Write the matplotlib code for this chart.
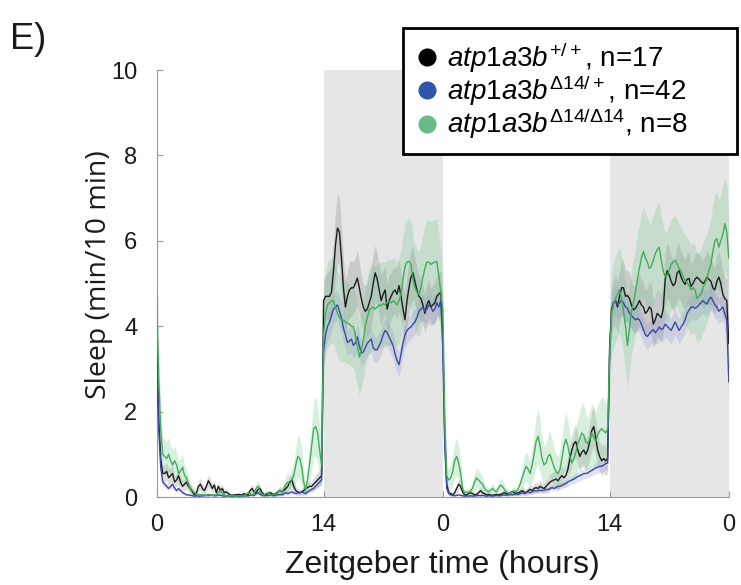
import numpy as np
import matplotlib
matplotlib.use("Agg")
import matplotlib.pyplot as plt
from matplotlib.lines import Line2D

plt.rcParams['font.family'] = ['Liberation Sans', 'DejaVu Sans']
plt.rcParams['mathtext.fontset'] = 'custom'
plt.rcParams['mathtext.it'] = 'Liberation Sans:italic'
plt.rcParams['mathtext.rm'] = 'Liberation Sans'
plt.rcParams['mathtext.sf'] = 'Liberation Sans'

# ---------------- data (sleep, min per 10-min bin) ----------------
tick_positions = [0, 14, 24, 38, 48]
tick_labels = ['0', '14', '0', '14', '0']
night_periods = [(14, 24), (38, 48)]
bin_hours = 1 / 6

# atp1a3b +/+ (black)
wt_day1 = [3.6, 1.8, 0.9, 0.55, 0.55, 0.6, 0.45, 0.5, 0.55, 0.35, 0.4, 0.5,
           0.35, 0.25, 0.3, 0.35, 0.25, 0.2, 0.12, 0.05, 0.1, 0.25, 0.3, 0.2,
           0.15, 0.25, 0.38, 0.3, 0.2, 0.28, 0.1, 0.25, 0.15, 0.2, 0.1, 0.12,
           0.08, 0.05, 0.04, 0.05, 0.05, 0.06, 0.05, 0.05, 0.08, 0.05, 0.06, 0.15,
           0.2, 0.12, 0.1, 0.18, 0.2, 0.1, 0.06, 0.05, 0.08, 0.1, 0.08, 0.06,
           0.08, 0.12, 0.15, 0.12, 0.15, 0.2, 0.25, 0.35, 0.4, 0.25, 0.15, 0.12,
           0.1, 0.12, 0.15, 0.2, 0.22, 0.25, 0.25, 0.3, 0.35, 0.4, 0.45, 0.5]
wt_night1 = [4.6, 4.7, 4.7, 4.7, 4.8, 5.3, 5.9, 6.3, 6.2, 5.6, 4.9, 4.45,
             4.7, 4.85, 4.9, 4.9, 5.0, 5.13, 4.9, 4.65, 4.45, 4.35, 4.4, 4.55,
             4.7, 5.0, 5.25, 5.1, 4.85, 4.6, 4.75, 4.85, 4.4, 4.6, 4.7, 4.8,
             4.85, 4.75, 4.95, 4.7, 4.4, 4.15, 4.6, 4.9, 5.15, 5.25, 5.05, 4.85,
             4.7, 4.65, 4.5, 4.3, 4.5, 4.6, 4.45, 4.5, 4.55, 4.7, 4.75, 4.8]
wt_day2 = [4.0, 1.4, 0.3, 0.1, 0.08, 0.05, 0.1, 0.2, 0.3, 0.25, 0.12, 0.05,
           0.05, 0.08, 0.1, 0.08, 0.05, 0.06, 0.1, 0.15, 0.1, 0.08, 0.05, 0.06,
           0.05, 0.04, 0.05, 0.06, 0.05, 0.06, 0.08, 0.1, 0.08, 0.06, 0.1, 0.12,
           0.1, 0.08, 0.1, 0.12, 0.15, 0.12, 0.1, 0.15, 0.18, 0.15, 0.2, 0.22,
           0.2, 0.25, 0.22, 0.2, 0.25, 0.3, 0.35, 0.38, 0.4, 0.42, 0.38, 0.45,
           0.5, 0.45, 0.5, 0.65, 0.9, 1.1, 1.25, 1.3, 1.1, 0.95, 1.05, 1.1,
           1.0, 1.1, 1.3, 1.55, 1.65, 1.4, 1.1, 0.95, 0.85, 0.9, 0.85, 0.9]
wt_night2 = [3.5, 4.4, 4.55, 4.6, 4.45, 4.7, 4.9, 4.9, 4.7, 4.72, 4.65, 4.5,
             4.38, 4.42, 4.5, 4.6, 4.5, 4.45, 4.3, 4.35, 4.45, 4.4, 4.05, 4.15,
             4.3, 4.25, 4.2, 4.4, 5.1, 5.3, 5.2, 5.05, 4.95, 5.0, 5.25, 5.3,
             5.15, 5.05, 4.98, 5.1, 5.12, 4.93, 5.0, 5.1, 5.15, 5.1, 5.05, 5.0,
             5.05, 5.15, 5.1, 5.05, 4.9, 4.85, 5.05, 5.15, 5.0, 4.75, 4.65, 4.6,
             3.6]

# atp1a3b D14/+ (blue)
het_day1 = [3.4, 1.6, 0.7, 0.35, 0.3, 0.25, 0.2, 0.25, 0.3, 0.2, 0.15, 0.2,
            0.15, 0.1, 0.08, 0.05, 0.05, 0.04, 0.03, 0.02, 0.03, 0.02, 0.02, 0.03,
            0.03, 0.04, 0.03, 0.05, 0.04, 0.03, 0.03, 0.05, 0.04, 0.03, 0.02, 0.03,
            0.02, 0.03, 0.02, 0.02, 0.03, 0.02, 0.02, 0.02, 0.03, 0.03, 0.03, 0.04,
            0.05, 0.04, 0.08, 0.1, 0.06, 0.04, 0.03, 0.04, 0.03, 0.05, 0.04, 0.03,
            0.04, 0.05, 0.06, 0.05, 0.08, 0.1, 0.08, 0.1, 0.12, 0.1, 0.08, 0.1,
            0.1, 0.12, 0.1, 0.08, 0.12, 0.15, 0.18, 0.2, 0.25, 0.3, 0.35, 0.4]
het_night1 = [3.4, 3.8, 4.0, 4.1, 4.25, 4.4, 4.45, 4.5, 4.35, 4.2, 3.95, 3.8,
              3.62, 3.65, 3.7, 3.55, 3.6, 3.75, 3.55, 3.37, 3.4, 3.5, 3.6, 3.65,
              3.7, 3.5, 3.45, 3.45, 3.55, 3.65, 3.8, 3.9, 3.85, 3.75, 3.65, 3.55,
              3.35, 3.2, 3.1, 3.35, 3.6, 3.8, 3.9, 3.95, 3.98, 4.05, 4.1, 4.2,
              4.35, 4.4, 4.45, 4.35, 4.4, 4.5, 4.45, 4.35, 4.4, 4.55, 4.45, 4.6]
het_day2 = [3.5, 1.2, 0.2, 0.08, 0.05, 0.04, 0.03, 0.04, 0.05, 0.04, 0.03, 0.02,
            0.03, 0.02, 0.03, 0.02, 0.03, 0.03, 0.04, 0.03, 0.04, 0.03, 0.02, 0.03,
            0.03, 0.02, 0.03, 0.04, 0.03, 0.03, 0.04, 0.05, 0.04, 0.05, 0.06, 0.05,
            0.06, 0.07, 0.06, 0.08, 0.1, 0.08, 0.1, 0.12, 0.1, 0.12, 0.15, 0.14,
            0.15, 0.16, 0.15, 0.16, 0.18, 0.17, 0.2, 0.22, 0.2, 0.22, 0.25, 0.25,
            0.27, 0.3, 0.32, 0.35, 0.38, 0.4, 0.42, 0.45, 0.48, 0.5, 0.52, 0.55,
            0.55, 0.56, 0.6, 0.62, 0.65, 0.68, 0.7, 0.72, 0.72, 0.75, 0.78, 0.8]
het_night2 = [3.3, 4.4, 4.55, 4.6, 4.5, 4.55, 4.6, 4.55, 4.45, 4.42, 4.3, 4.25,
              4.2, 4.15, 4.18, 4.15, 4.05, 3.92, 3.8, 3.76, 3.82, 3.88, 3.92, 3.85,
              3.9, 3.98, 3.92, 3.95, 4.05, 4.0, 3.95, 3.9, 4.0, 4.1, 4.0, 3.9,
              3.98, 4.05, 4.15, 4.3, 4.38, 4.45, 4.45, 4.42, 4.45, 4.5, 4.55, 4.6,
              4.55, 4.52, 4.62, 4.68, 4.6, 4.5, 4.45, 4.35, 4.4, 4.45, 4.3, 4.15,
              2.7]

# atp1a3b D14/D14 (green)
hom_day1 = [4.7, 2.8, 1.6, 1.0, 0.95, 0.9, 1.0, 0.85, 0.75, 0.85, 0.75, 0.55,
            0.6, 0.7, 0.5, 0.45, 0.3, 0.2, 0.15, 0.1, 0.08, 0.05, 0.06, 0.05,
            0.05, 0.04, 0.06, 0.05, 0.04, 0.05, 0.05, 0.1, 0.15, 0.08, 0.05, 0.03,
            0.02, 0.03, 0.05, 0.02, 0.02, 0.03, 0.02, 0.02, 0.03, 0.05, 0.1, 0.08,
            0.05, 0.08, 0.2, 0.25, 0.12, 0.06, 0.05, 0.08, 0.1, 0.06, 0.05, 0.08,
            0.05, 0.1, 0.15, 0.1, 0.2, 0.3, 0.35, 0.3, 0.4, 0.5, 0.75, 0.95,
            0.9, 0.7, 0.35, 0.15, 0.45, 0.8, 1.2, 1.6, 1.65, 1.5, 1.1, 0.75]
hom_night1 = [3.8, 4.3, 4.5, 4.55, 4.6, 4.6, 4.45, 4.3, 4.2, 4.15, 4.14, 4.1,
              4.07, 4.05, 4.0, 3.99, 3.8, 3.55, 3.28, 3.45, 3.67, 4.0, 4.2, 4.38,
              4.42, 4.45, 4.4, 4.45, 4.5, 4.48, 4.53, 4.5, 4.55, 4.58, 4.55, 4.6,
              4.55, 4.5, 4.6, 4.77, 5.1, 5.4, 5.5, 5.52, 5.45, 5.1, 4.9, 4.8,
              4.74, 4.9, 5.15, 5.35, 5.5, 5.5, 5.45, 5.48, 5.5, 5.52, 5.2, 4.8]
hom_day2 = [4.4, 1.8, 0.5, 0.4, 0.45, 0.6, 0.85, 0.95, 0.8, 0.55, 0.2, 0.1,
            0.12, 0.1, 0.15, 0.2, 0.35, 0.45, 0.4, 0.35, 0.3, 0.2, 0.15, 0.12,
            0.15, 0.2, 0.15, 0.12, 0.2, 0.28, 0.25, 0.18, 0.12, 0.1, 0.08, 0.12,
            0.15, 0.12, 0.2, 0.3, 0.45, 0.6, 0.72, 0.65, 0.55, 0.75, 1.0, 1.3,
            1.42, 1.2, 0.9, 0.75, 0.8, 0.95, 1.0, 0.85, 0.7, 0.6, 0.55, 0.65,
            0.9, 1.2, 1.35, 1.2, 0.95, 0.8, 0.9, 1.05, 1.25, 1.35, 1.5, 1.45,
            1.3, 1.25, 1.35, 1.5, 1.4, 1.3, 1.45, 1.55, 1.6, 1.55, 1.5, 1.6]
hom_night2 = [3.3, 4.3, 4.5, 4.65, 4.75, 4.85, 4.65, 4.35, 4.0, 3.55, 3.95, 4.35,
              4.55, 4.8, 5.1, 5.35, 5.6, 5.75, 5.6, 5.5, 5.35, 5.4, 5.55, 5.7,
              5.8, 5.85, 5.55, 5.3, 5.15, 5.2, 5.3, 5.45, 5.5, 5.55, 5.45, 5.35,
              5.3, 5.15, 5.08, 5.02, 4.95, 4.85, 4.9, 4.85, 4.65, 4.7, 4.75, 4.9,
              5.0, 5.12, 5.3, 5.45, 5.75, 6.0, 6.05, 5.85, 6.0, 6.15, 6.4, 6.2,
              5.6]

# SEM (half-width of shaded bands)
wt_sem_day1 = [0.9, 0.6, 0.3, 0.2, 0.2, 0.2, 0.2, 0.2, 0.2, 0.15, 0.15, 0.2,
               0.15, 0.15, 0.15, 0.15, 0.12, 0.1, 0.08, 0.05, 0.08, 0.12, 0.15, 0.1,
               0.1, 0.12, 0.15, 0.12, 0.1, 0.12, 0.08, 0.12, 0.1, 0.1, 0.08, 0.08,
               0.05, 0.04, 0.03, 0.04, 0.04, 0.05, 0.04, 0.04, 0.05, 0.04, 0.05, 0.08,
               0.1, 0.08, 0.06, 0.1, 0.1, 0.06, 0.05, 0.04, 0.05, 0.06, 0.05, 0.05,
               0.05, 0.08, 0.1, 0.08, 0.1, 0.12, 0.12, 0.15, 0.15, 0.12, 0.1, 0.08,
               0.08, 0.08, 0.1, 0.12, 0.12, 0.12, 0.12, 0.15, 0.15, 0.18, 0.2, 0.2]
wt_sem_night1 = [0.5, 0.5, 0.55, 0.6, 0.6, 0.7, 0.75, 0.8, 0.8, 0.75, 0.7, 0.6,
                 0.6, 0.65, 0.65, 0.6, 0.6, 0.65, 0.6, 0.55, 0.55, 0.6, 0.6, 0.65,
                 0.7, 0.7, 0.65, 0.6, 0.6, 0.6, 0.55, 0.55, 0.6, 0.6, 0.55, 0.55,
                 0.55, 0.6, 0.6, 0.55, 0.55, 0.6, 0.6, 0.6, 0.65, 0.6, 0.55, 0.5,
                 0.5, 0.5, 0.45, 0.45, 0.5, 0.5, 0.45, 0.45, 0.5, 0.5, 0.5, 0.5]
wt_sem_day2 = [0.8, 0.4, 0.15, 0.08, 0.06, 0.05, 0.06, 0.1, 0.12, 0.1, 0.08, 0.05,
               0.05, 0.06, 0.06, 0.05, 0.05, 0.05, 0.06, 0.08, 0.06, 0.05, 0.04, 0.05,
               0.04, 0.04, 0.04, 0.05, 0.04, 0.05, 0.05, 0.06, 0.05, 0.05, 0.06, 0.08,
               0.06, 0.06, 0.06, 0.08, 0.1, 0.08, 0.08, 0.1, 0.1, 0.1, 0.12, 0.12,
               0.12, 0.14, 0.12, 0.12, 0.14, 0.16, 0.18, 0.18, 0.2, 0.2, 0.2, 0.22,
               0.24, 0.22, 0.24, 0.28, 0.32, 0.36, 0.38, 0.4, 0.36, 0.34, 0.36, 0.38,
               0.36, 0.38, 0.42, 0.46, 0.48, 0.44, 0.4, 0.36, 0.34, 0.35, 0.34, 0.35]
wt_sem_night2 = [0.5, 0.55, 0.55, 0.6, 0.6, 0.6, 0.65, 0.65, 0.6, 0.6, 0.6, 0.55,
                 0.55, 0.55, 0.6, 0.6, 0.6, 0.55, 0.55, 0.55, 0.6, 0.6, 0.55, 0.55,
                 0.55, 0.55, 0.55, 0.6, 0.65, 0.65, 0.65, 0.6, 0.6, 0.6, 0.65, 0.65,
                 0.6, 0.6, 0.6, 0.6, 0.6, 0.55, 0.55, 0.6, 0.6, 0.6, 0.55, 0.55,
                 0.6, 0.6, 0.6, 0.55, 0.55, 0.55, 0.6, 0.6, 0.55, 0.55, 0.5, 0.5,
                 0.7]

het_sem_day1 = [0.5, 0.3, 0.15, 0.08, 0.07, 0.06, 0.06, 0.06, 0.07, 0.05, 0.04, 0.05,
                0.04, 0.03, 0.03, 0.02, 0.02, 0.02, 0.02, 0.01, 0.02, 0.01, 0.01, 0.02,
                0.02, 0.02, 0.01, 0.02, 0.02, 0.01, 0.01, 0.02, 0.02, 0.01, 0.01, 0.02,
                0.01, 0.02, 0.01, 0.01, 0.02, 0.01, 0.01, 0.01, 0.02, 0.02, 0.02, 0.02,
                0.03, 0.02, 0.03, 0.04, 0.03, 0.02, 0.02, 0.02, 0.02, 0.02, 0.02, 0.02,
                0.02, 0.03, 0.03, 0.03, 0.04, 0.04, 0.04, 0.04, 0.05, 0.04, 0.04, 0.04,
                0.04, 0.05, 0.04, 0.04, 0.05, 0.05, 0.06, 0.06, 0.07, 0.08, 0.09, 0.1]
het_sem_night1 = [0.4, 0.35, 0.35, 0.35, 0.35, 0.35, 0.35, 0.35, 0.35, 0.35, 0.35, 0.3,
                  0.3, 0.3, 0.3, 0.3, 0.3, 0.3, 0.3, 0.3, 0.3, 0.3, 0.3, 0.3,
                  0.3, 0.3, 0.3, 0.3, 0.3, 0.3, 0.3, 0.3, 0.3, 0.3, 0.3, 0.3,
                  0.3, 0.3, 0.3, 0.3, 0.3, 0.3, 0.3, 0.3, 0.3, 0.3, 0.3, 0.3,
                  0.3, 0.3, 0.3, 0.3, 0.3, 0.3, 0.3, 0.3, 0.3, 0.3, 0.3, 0.3]
het_sem_day2 = [0.5, 0.25, 0.06, 0.03, 0.02, 0.02, 0.02, 0.02, 0.02, 0.02, 0.02, 0.01,
                0.02, 0.01, 0.02, 0.01, 0.02, 0.02, 0.02, 0.02, 0.02, 0.02, 0.01, 0.02,
                0.02, 0.01, 0.02, 0.02, 0.02, 0.02, 0.02, 0.02, 0.02, 0.02, 0.03, 0.02,
                0.03, 0.03, 0.03, 0.03, 0.04, 0.03, 0.04, 0.04, 0.04, 0.04, 0.05, 0.05,
                0.05, 0.05, 0.05, 0.05, 0.06, 0.06, 0.06, 0.07, 0.06, 0.07, 0.08, 0.08,
                0.08, 0.09, 0.09, 0.1, 0.1, 0.1, 0.11, 0.11, 0.12, 0.12, 0.12, 0.12,
                0.12, 0.12, 0.13, 0.13, 0.13, 0.14, 0.14, 0.14, 0.14, 0.15, 0.15, 0.15]
het_sem_night2 = [0.4, 0.35, 0.35, 0.35, 0.35, 0.35, 0.35, 0.35, 0.35, 0.35, 0.35, 0.3,
                  0.3, 0.3, 0.3, 0.3, 0.3, 0.3, 0.3, 0.3, 0.3, 0.3, 0.3, 0.3,
                  0.3, 0.3, 0.3, 0.3, 0.3, 0.3, 0.3, 0.3, 0.3, 0.3, 0.3, 0.3,
                  0.3, 0.3, 0.3, 0.3, 0.3, 0.3, 0.3, 0.3, 0.3, 0.3, 0.3, 0.3,
                  0.3, 0.3, 0.3, 0.3, 0.3, 0.3, 0.3, 0.3, 0.3, 0.3, 0.35, 0.35,
                  0.5]

hom_sem_day1 = [1.0, 0.8, 0.5, 0.4, 0.4, 0.4, 0.4, 0.35, 0.35, 0.35, 0.3, 0.3,
                0.3, 0.3, 0.25, 0.2, 0.15, 0.12, 0.1, 0.06, 0.05, 0.04, 0.04, 0.04,
                0.04, 0.04, 0.05, 0.04, 0.04, 0.04, 0.04, 0.06, 0.08, 0.05, 0.04, 0.03,
                0.02, 0.03, 0.04, 0.02, 0.02, 0.03, 0.02, 0.02, 0.03, 0.04, 0.06, 0.05,
                0.05, 0.06, 0.12, 0.15, 0.08, 0.05, 0.05, 0.06, 0.07, 0.05, 0.05, 0.06,
                0.05, 0.08, 0.1, 0.08, 0.12, 0.2, 0.25, 0.2, 0.25, 0.3, 0.4, 0.5,
                0.5, 0.45, 0.3, 0.15, 0.3, 0.45, 0.55, 0.65, 0.7, 0.65, 0.55, 0.45]
hom_sem_night1 = [0.9, 0.95, 1.0, 1.0, 1.0, 1.0, 1.0, 1.0, 1.0, 1.0, 0.95, 0.95,
                  0.95, 0.95, 0.95, 0.95, 0.95, 0.95, 0.9, 0.9, 0.9, 0.95, 0.95, 1.0,
                  1.0, 1.0, 1.0, 1.0, 1.0, 1.0, 1.0, 1.0, 1.0, 1.0, 1.0, 1.0,
                  1.0, 1.0, 1.0, 1.0, 1.0, 1.0, 1.0, 1.0, 1.0, 1.0, 1.0, 1.0,
                  1.0, 1.0, 1.0, 1.0, 1.0, 1.0, 1.0, 1.0, 1.0, 1.0, 1.0, 1.0]
hom_sem_day2 = [1.0, 0.6, 0.3, 0.25, 0.3, 0.35, 0.4, 0.45, 0.4, 0.3, 0.15, 0.08,
                0.08, 0.08, 0.1, 0.12, 0.2, 0.25, 0.22, 0.2, 0.18, 0.12, 0.1, 0.08,
                0.1, 0.12, 0.1, 0.08, 0.12, 0.16, 0.15, 0.12, 0.08, 0.07, 0.06, 0.08,
                0.1, 0.08, 0.12, 0.18, 0.25, 0.3, 0.35, 0.35, 0.3, 0.4, 0.5, 0.6,
                0.65, 0.6, 0.5, 0.45, 0.45, 0.5, 0.55, 0.5, 0.45, 0.4, 0.4, 0.45,
                0.5, 0.6, 0.65, 0.6, 0.5, 0.45, 0.5, 0.55, 0.6, 0.65, 0.7, 0.7,
                0.65, 0.6, 0.65, 0.7, 0.7, 0.65, 0.7, 0.7, 0.75, 0.75, 0.7, 0.75]
hom_sem_night2 = [0.9, 0.95, 1.0, 1.0, 1.0, 1.0, 1.0, 1.0, 1.0, 1.0, 1.0, 1.0,
                  1.0, 1.0, 1.05, 1.05, 1.05, 1.05, 1.05, 1.05, 1.05, 1.05, 1.05, 1.05,
                  1.05, 1.05, 1.05, 1.05, 1.05, 1.05, 1.05, 1.05, 1.05, 1.05, 1.05, 1.05,
                  1.05, 1.05, 1.05, 1.05, 1.05, 1.05, 1.05, 1.05, 1.05, 1.05, 1.05, 1.05,
                  1.05, 1.05, 1.05, 1.1, 1.1, 1.1, 1.1, 1.1, 1.1, 1.1, 1.1, 1.1,
                  1.0]

labels = [r'$\mathit{atp1a3b}^{\mathit{+/+}}$, n=17',
          r'$\mathit{atp1a3b}^{\mathit{\Delta 14/+}}$, n=42',
          r'$\mathit{atp1a3b}^{\mathit{\Delta 14/\Delta 14}}$, n=8']
line_colors = ['#1c1c1c', '#3b48a3', '#3fae58']
band_colors = ['#7a7a7a', '#8d8fcf', '#6cc48a']
marker_colors = ['#000000', '#2f55a8', '#66bb88']

series = [
    (wt_day1 + wt_night1 + wt_day2 + wt_night2,
     wt_sem_day1 + wt_sem_night1 + wt_sem_day2 + wt_sem_night2),
    (het_day1 + het_night1 + het_day2 + het_night2,
     het_sem_day1 + het_sem_night1 + het_sem_day2 + het_sem_night2),
    (hom_day1 + hom_night1 + hom_day2 + hom_night2,
     hom_sem_day1 + hom_sem_night1 + hom_sem_day2 + hom_sem_night2),
]

# ---------------- figure ----------------
fig = plt.figure(figsize=(7.41, 5.85), dpi=100)
ax = fig.add_axes([0.2115, 0.1504, 0.772, 0.7299])

for a, b in night_periods:
    ax.axvspan(a, b, color='#e6e6e6', lw=0, zorder=0)

for (m, s), bc in zip(series, band_colors):
    m = np.array(m)
    s = np.array(s)
    t = np.arange(len(m)) * bin_hours
    ax.fill_between(t, np.clip(m - s, 0, None), m + s, color=bc, alpha=0.26,
                    lw=0, zorder=1)

order = [0, 2, 1]
for idx in order:
    m = np.array(series[idx][0])
    t = np.arange(len(m)) * bin_hours
    ax.plot(t, m, color=line_colors[idx], lw=1.0, zorder=3 + idx)

ax.set_xlim(0, 48)
ax.set_ylim(0, 10)
ax.set_xticks(tick_positions)
ax.set_xticklabels(tick_labels)
ax.set_yticks([0, 2, 4, 6, 8, 10])
for sp in ['top', 'right']:
    ax.spines[sp].set_visible(False)
for sp in ['left', 'bottom']:
    ax.spines[sp].set_color('#9a9a9a')
    ax.spines[sp].set_linewidth(0.8)
ax.tick_params(axis='both', direction='in', colors='#9a9a9a', labelcolor='#1a1a1a',
               labelsize=17, length=4, width=0.8)
ax.tick_params(axis='x', pad=12)
ax.tick_params(axis='y', pad=14)
ax.set_xlabel('Zeitgeber time (hours)', fontsize=23, labelpad=10, color='#1a1a1a')
ax.set_ylabel('Sleep (min/10 min)', fontsize=20.5, family=['Open Sans', 'DejaVu Sans'],
              color='#1a1a1a')
ax.yaxis.set_label_coords(-0.076, 0.52)

fig.text(0.013, 0.962, 'E)', fontsize=26, va='top', ha='left', color='#1a1a1a')

handles = [Line2D([], [], ls='none', marker='o', markersize=12,
                  markerfacecolor=c, markeredgecolor=c) for c in marker_colors]
leg = fig.legend(handles, labels, loc='upper left', mode='expand',
                 bbox_to_anchor=(403 / 741, 1 - 152 / 585, 334 / 741, 124 / 585),
                 fontsize=20, frameon=True, fancybox=False, framealpha=1,
                 edgecolor='black', handlelength=0.83, handletextpad=0.3,
                 borderpad=0.45, labelspacing=-0.05, borderaxespad=0)
leg.get_frame().set_linewidth(2.0)

fig.savefig('out.png', dpi=100, facecolor='white')
